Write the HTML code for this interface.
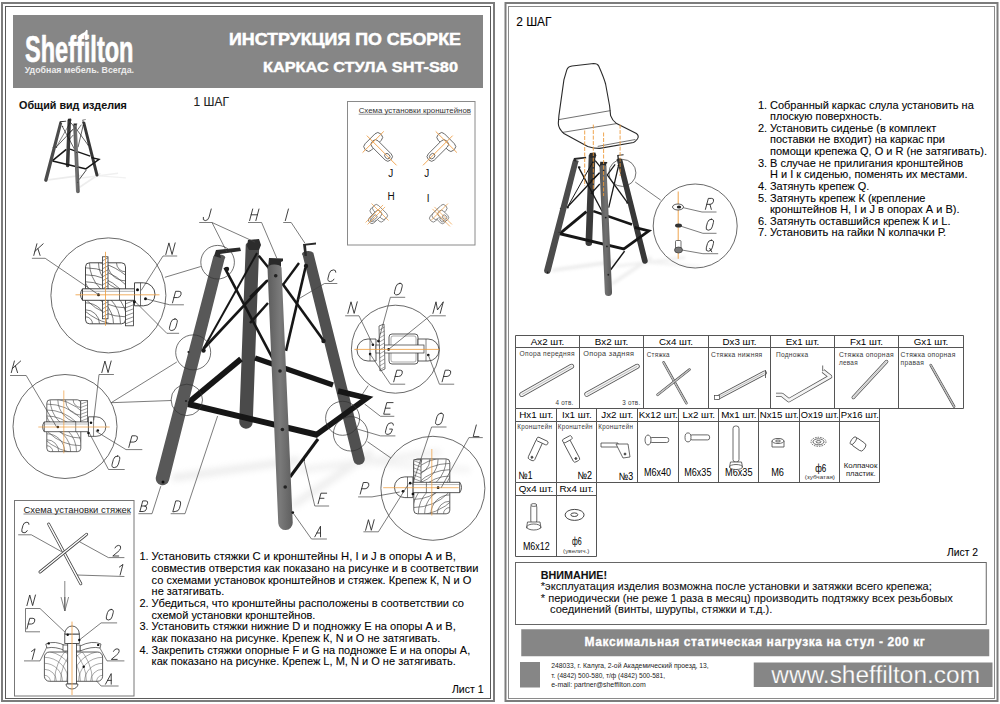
<!DOCTYPE html>
<html><head><meta charset="utf-8"><style>
html,body{margin:0;padding:0;background:#fff;}
body{width:1000px;height:704px;overflow:hidden;}
svg{display:block;font-family:"Liberation Sans",sans-serif;}
.gl{font-weight:400;}
</style></head><body>
<svg width="1000" height="704" viewBox="0 0 1000 704">
<defs>
<filter id="blur3" x="-20%" y="-50%" width="140%" height="200%"><feGaussianBlur stdDeviation="3"/></filter>
<linearGradient id="gA2" x1="0" x2="1" y1="0" y2="0"><stop offset="0" stop-color="#555"/><stop offset="0.5" stop-color="#717171"/><stop offset="1" stop-color="#585858"/></linearGradient>
<linearGradient id="gB" x1="0" x2="1" y1="0" y2="0"><stop offset="0" stop-color="#626262"/><stop offset="0.6" stop-color="#595959"/><stop offset="1" stop-color="#4a4a4a"/></linearGradient>
<linearGradient id="gA" x1="0" x2="1" y1="0" y2="0">
<stop offset="0" stop-color="#5c5c5c"/><stop offset="0.5" stop-color="#7a7a7a"/><stop offset="1" stop-color="#5e5e5e"/></linearGradient>
</defs>
<rect x="0" y="0" width="1000" height="704" fill="#fff"/>

<rect x="2" y="3" width="492" height="698" fill="none" stroke="#7c7c7c" stroke-width="2" />
<rect x="5.5" y="6.5" width="485" height="692" fill="none" stroke="#5a5a5a" stroke-width="1" />
<rect x="505.5" y="3" width="492" height="698" fill="none" stroke="#7c7c7c" stroke-width="2" />
<rect x="508.5" y="6.5" width="486" height="692" fill="none" stroke="#8a8a8a" stroke-width="1" />
<rect x="13" y="15" width="470" height="73" fill="#868686" />
<text x="229" y="44.6" font-size="16.5" font-weight="700" fill="#fff" textLength="232" lengthAdjust="spacingAndGlyphs" stroke="#fff" stroke-width="0.5">ИНСТРУКЦИЯ ПО СБОРКЕ</text>
<text x="263" y="71.6" font-size="14.5" font-weight="700" fill="#fff" textLength="195" lengthAdjust="spacingAndGlyphs" stroke="#fff" stroke-width="0.4">КАРКАС СТУЛА SHT-S80</text>
<text x="25" y="62.3" font-size="37" font-weight="700" fill="#fff" stroke="#fff" stroke-width="0.7" stroke-linejoin="round" textLength="108.5" lengthAdjust="spacingAndGlyphs">Sheffilton</text>
<path d="M77.5,37.5 Q80.5,33.5 85,32 L86.2,29.8 L87.6,30.2 L87.6,40 L85.2,40 L85.2,35 Q81.5,36 79.5,39 Z" fill="#fff"/>
<text x="24.7" y="73.3" font-size="9.6" font-weight="700" fill="#ececec" textLength="109.3" lengthAdjust="spacingAndGlyphs" >Удобная мебель. Всегда.</text>
<text x="19.1" y="109.2" font-size="11.8" font-weight="700" fill="#111" textLength="107.8" lengthAdjust="spacingAndGlyphs" stroke="#111" stroke-width="0.1" >Общий вид изделия</text>
<text x="193.6" y="105.6" font-size="12" fill="#222" textLength="35.3" lengthAdjust="spacingAndGlyphs" stroke="#222" stroke-width="0.1" >1 ШАГ</text>
<g id="mainchair"><g filter="url(#blur3)" opacity="0.4"><line x1="172" y1="478" x2="300" y2="460" stroke="#d0d0d0" stroke-width="7"/><line x1="292" y1="506" x2="372" y2="452" stroke="#d4d4d4" stroke-width="7"/><line x1="300" y1="470" x2="440" y2="452" stroke="#dadada" stroke-width="6"/><line x1="366" y1="462" x2="470" y2="470" stroke="#dedede" stroke-width="5"/></g>
<path d="M245.75,244.75 A6.75,3.38 0 0 1 259.25,245.25 L252.75,422.25 A6.75,6.75 0 0 1 239.25,421.75 Z" fill="#4a4a4a" />
<line x1="188" y1="403" x2="241" y2="359" stroke="#161616" stroke-width="5.8" stroke-linecap="butt"/>
<line x1="255" y1="358" x2="333" y2="385" stroke="#161616" stroke-width="5.2" stroke-linecap="butt"/>
<line x1="258.8" y1="255.7" x2="272" y2="272" stroke="#161616" stroke-width="2.5" stroke-linecap="butt"/>
<line x1="250" y1="323" x2="268" y2="303" stroke="#161616" stroke-width="2.5" stroke-linecap="butt"/>
<line x1="250" y1="297" x2="268" y2="280" stroke="#161616" stroke-width="2.4" stroke-linecap="butt"/>
<line x1="299" y1="263" x2="283.3" y2="284.4" stroke="#161616" stroke-width="2.4" stroke-linecap="butt"/>
<line x1="203.3" y1="349" x2="257" y2="253" stroke="#161616" stroke-width="2.0" stroke-linecap="butt"/>
<path d="M213.43,256.08 A5.75,2.88 0 0 1 224.57,258.92 L169.04,480.17 A6.75,6.75 0 0 1 155.96,476.83 Z" fill="#585858" />
<path d="M302.66,255.33 A5.50,2.75 0 0 1 313.34,252.67 L364.58,457.61 A5.75,5.75 0 0 1 353.42,460.39 Z" fill="#505050" />
<line x1="224.6" y1="267.7" x2="272.6" y2="358.3" stroke="#161616" stroke-width="2.6" stroke-linecap="butt"/>
<line x1="203.3" y1="349" x2="267.1" y2="280.7" stroke="#161616" stroke-width="2.6" stroke-linecap="butt"/>
<line x1="282.3" y1="283.4" x2="323" y2="339.8" stroke="#161616" stroke-width="2.6" stroke-linecap="butt"/>
<line x1="305.4" y1="267.7" x2="286" y2="350.9" stroke="#161616" stroke-width="2.6" stroke-linecap="butt"/>
<line x1="188" y1="404" x2="318" y2="435" stroke="#161616" stroke-width="6" stroke-linecap="butt"/>
<polyline points="316,435 367,398 338,391" fill="none" stroke="#161616" stroke-width="5.5" stroke-linejoin="miter"/>
<line x1="318" y1="439" x2="290" y2="477" stroke="#161616" stroke-width="3" stroke-linecap="butt"/>
<path d="M214,256 L216,250 L240,247.5 L241,251 L220,254 L221,258 Z" fill="#2a2a2a"/>
<path d="M247,246 L248,240 L259,239 L261,245 L259,250 L249,250 Z" fill="#2c2c2c"/>
<path d="M268,268 L269,258 L283,258.5 L283,261 L281,262 L281,268 Z" fill="#2a2a2a"/>
<path d="M303,244 L316,242.5 L316,244.5 L306,245.5 L307,256 L304.5,256 Z" fill="#2a2a2a"/>
<circle cx="227" cy="269" r="2.2" fill="#1a1a1a"/>
<circle cx="203.5" cy="350.5" r="2.2" fill="#1a1a1a"/>
<circle cx="306" cy="266" r="2.2" fill="#1a1a1a"/>
<circle cx="323.5" cy="341" r="2.2" fill="#1a1a1a"/>
<path d="M267.51,268.30 A7.00,3.50 0 0 1 281.49,267.70 L292.74,522.69 A7.25,7.25 0 0 1 278.26,523.31 Z" fill="url(#gA)" />
<circle cx="275.7" cy="275.8" r="1.8" fill="#222"/>
<circle cx="280" cy="371" r="1.8" fill="#222"/>
<circle cx="282.4" cy="429.5" r="1.8" fill="#222"/>
<circle cx="285.2" cy="487" r="1.8" fill="#222"/>
<circle cx="188.5" cy="352" r="1.1" fill="#222"/>
<circle cx="186" cy="401" r="1.1" fill="#222"/>
<circle cx="163" cy="482" r="1.5" fill="#111"/></g>
<g transform="matrix(0.2602 0 0 0.2571 3.59 57.07)"><g filter="url(#blur3)" opacity="0.4"><line x1="172" y1="478" x2="300" y2="460" stroke="#d0d0d0" stroke-width="7"/><line x1="292" y1="506" x2="372" y2="452" stroke="#d4d4d4" stroke-width="7"/><line x1="300" y1="470" x2="440" y2="452" stroke="#dadada" stroke-width="6"/><line x1="366" y1="462" x2="470" y2="470" stroke="#dedede" stroke-width="5"/></g>
<path d="M245.75,244.75 A6.75,3.38 0 0 1 259.25,245.25 L252.75,422.25 A6.75,6.75 0 0 1 239.25,421.75 Z" fill="#3a3a3a" />
<line x1="188" y1="403" x2="241" y2="359" stroke="#161616" stroke-width="5.8" stroke-linecap="butt"/>
<line x1="255" y1="358" x2="333" y2="385" stroke="#161616" stroke-width="5.2" stroke-linecap="butt"/>
<line x1="258.8" y1="255.7" x2="272" y2="272" stroke="#161616" stroke-width="2.5" stroke-linecap="butt"/>
<line x1="250" y1="323" x2="268" y2="303" stroke="#161616" stroke-width="2.5" stroke-linecap="butt"/>
<line x1="250" y1="297" x2="268" y2="280" stroke="#161616" stroke-width="2.4" stroke-linecap="butt"/>
<line x1="299" y1="263" x2="283.3" y2="284.4" stroke="#161616" stroke-width="2.4" stroke-linecap="butt"/>
<line x1="203.3" y1="349" x2="257" y2="253" stroke="#161616" stroke-width="2.0" stroke-linecap="butt"/>
<path d="M213.43,256.08 A5.75,2.88 0 0 1 224.57,258.92 L169.04,480.17 A6.75,6.75 0 0 1 155.96,476.83 Z" fill="#4c4c4c" />
<path d="M302.66,255.33 A5.50,2.75 0 0 1 313.34,252.67 L364.58,457.61 A5.75,5.75 0 0 1 353.42,460.39 Z" fill="#383838" />
<line x1="224.6" y1="267.7" x2="272.6" y2="358.3" stroke="#161616" stroke-width="2.6" stroke-linecap="butt"/>
<line x1="203.3" y1="349" x2="267.1" y2="280.7" stroke="#161616" stroke-width="2.6" stroke-linecap="butt"/>
<line x1="282.3" y1="283.4" x2="323" y2="339.8" stroke="#161616" stroke-width="2.6" stroke-linecap="butt"/>
<line x1="305.4" y1="267.7" x2="286" y2="350.9" stroke="#161616" stroke-width="2.6" stroke-linecap="butt"/>
<line x1="188" y1="404" x2="318" y2="435" stroke="#161616" stroke-width="6" stroke-linecap="butt"/>
<polyline points="316,435 367,398 338,391" fill="none" stroke="#161616" stroke-width="5.5" stroke-linejoin="miter"/>
<line x1="318" y1="439" x2="290" y2="477" stroke="#161616" stroke-width="3" stroke-linecap="butt"/>
<path d="M214,256 L216,250 L240,247.5 L241,251 L220,254 L221,258 Z" fill="#2a2a2a"/>
<path d="M247,246 L248,240 L259,239 L261,245 L259,250 L249,250 Z" fill="#2c2c2c"/>
<path d="M268,268 L269,258 L283,258.5 L283,261 L281,262 L281,268 Z" fill="#2a2a2a"/>
<path d="M303,244 L316,242.5 L316,244.5 L306,245.5 L307,256 L304.5,256 Z" fill="#2a2a2a"/>
<circle cx="227" cy="269" r="2.2" fill="#1a1a1a"/>
<circle cx="203.5" cy="350.5" r="2.2" fill="#1a1a1a"/>
<circle cx="306" cy="266" r="2.2" fill="#1a1a1a"/>
<circle cx="323.5" cy="341" r="2.2" fill="#1a1a1a"/>
<path d="M267.51,268.30 A7.00,3.50 0 0 1 281.49,267.70 L292.74,522.69 A7.25,7.25 0 0 1 278.26,523.31 Z" fill="url(#gA2)" />
<circle cx="275.7" cy="275.8" r="1.8" fill="#222"/>
<circle cx="280" cy="371" r="1.8" fill="#222"/>
<circle cx="282.4" cy="429.5" r="1.8" fill="#222"/>
<circle cx="285.2" cy="487" r="1.8" fill="#222"/>
<circle cx="188.5" cy="352" r="1.1" fill="#222"/>
<circle cx="186" cy="401" r="1.1" fill="#222"/>
<circle cx="163" cy="482" r="1.5" fill="#111"/></g>
<g transform="matrix(0.4958 0 0 0.4931 466.9 34.6)"><g filter="url(#blur3)" opacity="0.4"><line x1="172" y1="478" x2="300" y2="460" stroke="#d0d0d0" stroke-width="7"/><line x1="292" y1="506" x2="372" y2="452" stroke="#d4d4d4" stroke-width="7"/><line x1="300" y1="470" x2="440" y2="452" stroke="#dadada" stroke-width="6"/><line x1="366" y1="462" x2="470" y2="470" stroke="#dedede" stroke-width="5"/></g>
<path d="M245.75,244.75 A6.75,3.38 0 0 1 259.25,245.25 L252.75,422.25 A6.75,6.75 0 0 1 239.25,421.75 Z" fill="#3a3a3a" />
<line x1="188" y1="403" x2="241" y2="359" stroke="#161616" stroke-width="5.8" stroke-linecap="butt"/>
<line x1="255" y1="358" x2="333" y2="385" stroke="#161616" stroke-width="5.2" stroke-linecap="butt"/>
<line x1="258.8" y1="255.7" x2="272" y2="272" stroke="#161616" stroke-width="2.5" stroke-linecap="butt"/>
<line x1="250" y1="323" x2="268" y2="303" stroke="#161616" stroke-width="2.5" stroke-linecap="butt"/>
<line x1="250" y1="297" x2="268" y2="280" stroke="#161616" stroke-width="2.4" stroke-linecap="butt"/>
<line x1="299" y1="263" x2="283.3" y2="284.4" stroke="#161616" stroke-width="2.4" stroke-linecap="butt"/>
<line x1="203.3" y1="349" x2="257" y2="253" stroke="#161616" stroke-width="2.0" stroke-linecap="butt"/>
<path d="M213.43,256.08 A5.75,2.88 0 0 1 224.57,258.92 L169.04,480.17 A6.75,6.75 0 0 1 155.96,476.83 Z" fill="#4c4c4c" />
<path d="M302.66,255.33 A5.50,2.75 0 0 1 313.34,252.67 L364.58,457.61 A5.75,5.75 0 0 1 353.42,460.39 Z" fill="#383838" />
<line x1="224.6" y1="267.7" x2="272.6" y2="358.3" stroke="#161616" stroke-width="2.6" stroke-linecap="butt"/>
<line x1="203.3" y1="349" x2="267.1" y2="280.7" stroke="#161616" stroke-width="2.6" stroke-linecap="butt"/>
<line x1="282.3" y1="283.4" x2="323" y2="339.8" stroke="#161616" stroke-width="2.6" stroke-linecap="butt"/>
<line x1="305.4" y1="267.7" x2="286" y2="350.9" stroke="#161616" stroke-width="2.6" stroke-linecap="butt"/>
<line x1="188" y1="404" x2="318" y2="435" stroke="#161616" stroke-width="6" stroke-linecap="butt"/>
<polyline points="316,435 367,398 338,391" fill="none" stroke="#161616" stroke-width="5.5" stroke-linejoin="miter"/>
<line x1="318" y1="439" x2="290" y2="477" stroke="#161616" stroke-width="3" stroke-linecap="butt"/>
<path d="M214,256 L216,250 L240,247.5 L241,251 L220,254 L221,258 Z" fill="#2a2a2a"/>
<path d="M247,246 L248,240 L259,239 L261,245 L259,250 L249,250 Z" fill="#2c2c2c"/>
<path d="M268,268 L269,258 L283,258.5 L283,261 L281,262 L281,268 Z" fill="#2a2a2a"/>
<path d="M303,244 L316,242.5 L316,244.5 L306,245.5 L307,256 L304.5,256 Z" fill="#2a2a2a"/>
<circle cx="227" cy="269" r="2.2" fill="#1a1a1a"/>
<circle cx="203.5" cy="350.5" r="2.2" fill="#1a1a1a"/>
<circle cx="306" cy="266" r="2.2" fill="#1a1a1a"/>
<circle cx="323.5" cy="341" r="2.2" fill="#1a1a1a"/>
<path d="M267.51,268.30 A7.00,3.50 0 0 1 281.49,267.70 L292.74,522.69 A7.25,7.25 0 0 1 278.26,523.31 Z" fill="url(#gA2)" />
<circle cx="275.7" cy="275.8" r="1.8" fill="#222"/>
<circle cx="280" cy="371" r="1.8" fill="#222"/>
<circle cx="282.4" cy="429.5" r="1.8" fill="#222"/>
<circle cx="285.2" cy="487" r="1.8" fill="#222"/>
<circle cx="188.5" cy="352" r="1.1" fill="#222"/>
<circle cx="186" cy="401" r="1.1" fill="#222"/>
<circle cx="163" cy="482" r="1.5" fill="#111"/></g>
<rect x="347.5" y="101.5" width="127.5" height="143.5" fill="none" stroke="#8a8a8a" stroke-width="1" />
<text x="358.7" y="113" font-size="8" fill="#333" textLength="112.3" lengthAdjust="spacingAndGlyphs" >Схема установки кронштейнов</text>
<line x1="358.7" y1="114.2" x2="471" y2="114.2" stroke="#444" stroke-width="0.6" />
<g transform="translate(373.2,142) rotate(45) scale(1.0)" fill="#fff" stroke="#5a5a5a" stroke-width="0.85"><rect x="-4.5" y="-11" width="9" height="22" rx="4"/><rect x="-1" y="-4.3" width="26" height="8.6" rx="3.8"/><ellipse cx="20" cy="0" rx="3" ry="2.3"/></g>
<g transform="translate(373.2,142) rotate(45) scale(1.0)" stroke="#ec9636" stroke-width="0.8"><line x1="-9" y1="0" x2="33" y2="0"/><line x1="0" y1="-15" x2="0" y2="15"/></g>
<g transform="translate(446.3,142) rotate(135) scale(1.0)" fill="#fff" stroke="#5a5a5a" stroke-width="0.85"><rect x="-4.5" y="-11" width="9" height="22" rx="4"/><rect x="-1" y="-4.3" width="26" height="8.6" rx="3.8"/><ellipse cx="20" cy="0" rx="3" ry="2.3"/></g>
<g transform="translate(446.3,142) rotate(135) scale(1.0)" stroke="#ec9636" stroke-width="0.8"><line x1="-9" y1="0" x2="33" y2="0"/><line x1="0" y1="-15" x2="0" y2="15"/></g>
<g transform="translate(377.5,214.5) rotate(135) scale(0.8)" fill="#fff" stroke="#5a5a5a" stroke-width="0.85"><rect x="-4.5" y="-11" width="9" height="22" rx="4"/><rect x="-1" y="-4.3" width="15" height="8.6" rx="3.8"/><ellipse cx="9" cy="0" rx="3" ry="2.3"/></g>
<g transform="translate(380,212) rotate(135) scale(0.8)" fill="#fff" stroke="#5a5a5a" stroke-width="0.85"><rect x="-4.5" y="-11" width="9" height="22" rx="4"/><rect x="-1" y="-4.3" width="15" height="8.6" rx="3.8"/><ellipse cx="9" cy="0" rx="3" ry="2.3"/></g>
<g transform="translate(380,212) rotate(135) scale(0.8)" stroke="#ec9636" stroke-width="0.8"><line x1="-9" y1="0" x2="22" y2="0"/><line x1="0" y1="-15" x2="0" y2="15"/><line x1="-9" y1="3.5" x2="22" y2="3.5"/></g>
<g transform="translate(437.0,214.5) rotate(45) scale(0.8)" fill="#fff" stroke="#5a5a5a" stroke-width="0.85"><rect x="-4.5" y="-11" width="9" height="22" rx="4"/><rect x="-1" y="-4.3" width="15" height="8.6" rx="3.8"/><ellipse cx="9" cy="0" rx="3" ry="2.3"/></g>
<g transform="translate(439.5,212) rotate(45) scale(0.8)" fill="#fff" stroke="#5a5a5a" stroke-width="0.85"><rect x="-4.5" y="-11" width="9" height="22" rx="4"/><rect x="-1" y="-4.3" width="15" height="8.6" rx="3.8"/><ellipse cx="9" cy="0" rx="3" ry="2.3"/></g>
<g transform="translate(439.5,212) rotate(45) scale(0.8)" stroke="#ec9636" stroke-width="0.8"><line x1="-9" y1="0" x2="22" y2="0"/><line x1="0" y1="-15" x2="0" y2="15"/><line x1="-9" y1="3.5" x2="22" y2="3.5"/></g>
<text x="388.3" y="177" font-size="10" fill="#111" >J</text>
<text x="424.3" y="177" font-size="10" fill="#111" >J</text>
<text x="387.6" y="200.3" font-size="10" fill="#111" >H</text>
<text x="426.8" y="201.5" font-size="10" fill="#111" >I</text>
<defs><clipPath id="cj"><rect x="-22" y="-32" width="40" height="61" rx="4"/></clipPath></defs>
<circle cx="108.4" cy="295.4" r="57.5" stroke="#444" stroke-width="0.8" fill="none"/>
<g transform="translate(107.5,294.8) scale(1.0,1.0)">
<rect x="-22" y="-32" width="40" height="61" rx="4" fill="#fff" stroke="#333" stroke-width="0.9"/>
<path d="M-22,22 A7,7 0 0 1 -15,29" fill="none" stroke="#444" stroke-width="0.7" clip-path="url(#cj)"/>
<path d="M-22,15 A14,14 0 0 1 -8,29" fill="none" stroke="#444" stroke-width="0.7" clip-path="url(#cj)"/>
<path d="M-22,8 A21,21 0 0 1 -1,29" fill="none" stroke="#444" stroke-width="0.7" clip-path="url(#cj)"/>
<path d="M-22,1 A28,28 0 0 1 6,29" fill="none" stroke="#444" stroke-width="0.7" clip-path="url(#cj)"/>
<path d="M-22,-6 A35,35 0 0 1 13,29" fill="none" stroke="#444" stroke-width="0.7" clip-path="url(#cj)"/>
<path d="M-22,-13 A42,42 0 0 1 20,29" fill="none" stroke="#444" stroke-width="0.7" clip-path="url(#cj)"/>
<path d="M-22,-20 A49,49 0 0 1 27,29" fill="none" stroke="#444" stroke-width="0.7" clip-path="url(#cj)"/>
<path d="M-22,-27 A56,56 0 0 1 34,29" fill="none" stroke="#444" stroke-width="0.7" clip-path="url(#cj)"/>
<path d="M-22,-34 A63,63 0 0 1 41,29" fill="none" stroke="#444" stroke-width="0.7" clip-path="url(#cj)"/>
<path d="M18,-23 A9,9 0 0 1 9,-32" fill="none" stroke="#444" stroke-width="0.7" clip-path="url(#cj)"/>
<path d="M18,-14 A18,18 0 0 1 0,-32" fill="none" stroke="#444" stroke-width="0.7" clip-path="url(#cj)"/>
<path d="M18,-5 A27,27 0 0 1 -9,-32" fill="none" stroke="#444" stroke-width="0.7" clip-path="url(#cj)"/>
<path d="M18,4 A36,36 0 0 1 -18,-32" fill="none" stroke="#444" stroke-width="0.7" clip-path="url(#cj)"/>
<path d="M18,13 A45,45 0 0 1 -27,-32" fill="none" stroke="#444" stroke-width="0.7" clip-path="url(#cj)"/>
<path d="M18,22 A54,54 0 0 1 -36,-32" fill="none" stroke="#444" stroke-width="0.7" clip-path="url(#cj)"/>
<path d="M18,31 A63,63 0 0 1 -45,-32" fill="none" stroke="#444" stroke-width="0.7" clip-path="url(#cj)"/>
<rect x="-5" y="-38" width="5.5" height="62" fill="#fff" stroke="#333" stroke-width="0.8"/>
<line x1="-5" y1="-34" x2="0.5" y2="-37" stroke="#444" stroke-width="0.6"/>
<line x1="-5" y1="-30" x2="0.5" y2="-33" stroke="#444" stroke-width="0.6"/>
<line x1="-5" y1="-26" x2="0.5" y2="-29" stroke="#444" stroke-width="0.6"/>
<line x1="-5" y1="-22" x2="0.5" y2="-25" stroke="#444" stroke-width="0.6"/>
<line x1="-5" y1="-18" x2="0.5" y2="-21" stroke="#444" stroke-width="0.6"/>
<line x1="-5" y1="-14" x2="0.5" y2="-17" stroke="#444" stroke-width="0.6"/>
<line x1="-5" y1="-10" x2="0.5" y2="-13" stroke="#444" stroke-width="0.6"/>
<line x1="-5" y1="-6" x2="0.5" y2="-9" stroke="#444" stroke-width="0.6"/>
<line x1="-5" y1="-2" x2="0.5" y2="-5" stroke="#444" stroke-width="0.6"/>
<line x1="-5" y1="2" x2="0.5" y2="-1" stroke="#444" stroke-width="0.6"/>
<line x1="-5" y1="6" x2="0.5" y2="3" stroke="#444" stroke-width="0.6"/>
<line x1="-5" y1="10" x2="0.5" y2="7" stroke="#444" stroke-width="0.6"/>
<line x1="-5" y1="14" x2="0.5" y2="11" stroke="#444" stroke-width="0.6"/>
<line x1="-5" y1="18" x2="0.5" y2="15" stroke="#444" stroke-width="0.6"/>
<line x1="-5" y1="22" x2="0.5" y2="19" stroke="#444" stroke-width="0.6"/>
<rect x="18" y="5" width="8" height="26" fill="#fff" stroke="#333" stroke-width="0.8"/>
<line x1="18" y1="9" x2="26" y2="6" stroke="#444" stroke-width="0.6"/>
<line x1="18" y1="13" x2="26" y2="10" stroke="#444" stroke-width="0.6"/>
<line x1="18" y1="17" x2="26" y2="14" stroke="#444" stroke-width="0.6"/>
<line x1="18" y1="21" x2="26" y2="18" stroke="#444" stroke-width="0.6"/>
<line x1="18" y1="25" x2="26" y2="22" stroke="#444" stroke-width="0.6"/>
<line x1="18" y1="29" x2="26" y2="26" stroke="#444" stroke-width="0.6"/>
<path d="M-25,-6 L27,-6 L27,5.5 L-25,5.5 Z" fill="#fff" stroke="#333" stroke-width="0.9"/>
<path d="M-25,-6 A10,10 0 0 0 -25,5.5" fill="none" stroke="#333" stroke-width="0.9"/>
<line x1="-25" y1="-3.5" x2="27" y2="-3.5" stroke="#666" stroke-width="0.5"/>
<line x1="12" y1="-6" x2="12" y2="5.5" stroke="#333" stroke-width="0.7"/>
<path d="M27,-12 L36,-12 A11,11 0 0 1 36,11 L27,11 Z" fill="#fff" stroke="#333" stroke-width="0.9"/>
<line x1="33" y1="-12" x2="33" y2="11" stroke="#333" stroke-width="0.7"/>
<circle cx="30" cy="-5" r="1.5" fill="#111"/><circle cx="38" cy="4" r="1.5" fill="#111"/><circle cx="27" cy="7" r="1.5" fill="#111"/>
<circle cx="-9" cy="0" r="1.5" fill="#111"/>
<line x1="-32" y1="0" x2="52" y2="0" stroke="#ee9a3a" stroke-width="0.8"/>
<line x1="-2" y1="-43" x2="-2" y2="31" stroke="#ee9a3a" stroke-width="0.8"/>
</g>
<circle cx="65" cy="426.5" r="52" stroke="#444" stroke-width="0.8" fill="none"/>
<g transform="translate(65.5,427) scale(0.85,0.85)">
<rect x="-22" y="-32" width="40" height="61" rx="4" fill="#fff" stroke="#333" stroke-width="0.9"/>
<path d="M-22,22 A7,7 0 0 1 -15,29" fill="none" stroke="#444" stroke-width="0.7" clip-path="url(#cj)"/>
<path d="M-22,15 A14,14 0 0 1 -8,29" fill="none" stroke="#444" stroke-width="0.7" clip-path="url(#cj)"/>
<path d="M-22,8 A21,21 0 0 1 -1,29" fill="none" stroke="#444" stroke-width="0.7" clip-path="url(#cj)"/>
<path d="M-22,1 A28,28 0 0 1 6,29" fill="none" stroke="#444" stroke-width="0.7" clip-path="url(#cj)"/>
<path d="M-22,-6 A35,35 0 0 1 13,29" fill="none" stroke="#444" stroke-width="0.7" clip-path="url(#cj)"/>
<path d="M-22,-13 A42,42 0 0 1 20,29" fill="none" stroke="#444" stroke-width="0.7" clip-path="url(#cj)"/>
<path d="M-22,-20 A49,49 0 0 1 27,29" fill="none" stroke="#444" stroke-width="0.7" clip-path="url(#cj)"/>
<path d="M-22,-27 A56,56 0 0 1 34,29" fill="none" stroke="#444" stroke-width="0.7" clip-path="url(#cj)"/>
<path d="M-22,-34 A63,63 0 0 1 41,29" fill="none" stroke="#444" stroke-width="0.7" clip-path="url(#cj)"/>
<path d="M18,-23 A9,9 0 0 1 9,-32" fill="none" stroke="#444" stroke-width="0.7" clip-path="url(#cj)"/>
<path d="M18,-14 A18,18 0 0 1 0,-32" fill="none" stroke="#444" stroke-width="0.7" clip-path="url(#cj)"/>
<path d="M18,-5 A27,27 0 0 1 -9,-32" fill="none" stroke="#444" stroke-width="0.7" clip-path="url(#cj)"/>
<path d="M18,4 A36,36 0 0 1 -18,-32" fill="none" stroke="#444" stroke-width="0.7" clip-path="url(#cj)"/>
<path d="M18,13 A45,45 0 0 1 -27,-32" fill="none" stroke="#444" stroke-width="0.7" clip-path="url(#cj)"/>
<path d="M18,22 A54,54 0 0 1 -36,-32" fill="none" stroke="#444" stroke-width="0.7" clip-path="url(#cj)"/>
<path d="M18,31 A63,63 0 0 1 -45,-32" fill="none" stroke="#444" stroke-width="0.7" clip-path="url(#cj)"/>
<rect x="18" y="-31" width="8" height="26" fill="#fff" stroke="#333" stroke-width="0.8"/>
<line x1="18" y1="-27" x2="26" y2="-30" stroke="#444" stroke-width="0.6"/>
<line x1="18" y1="-23" x2="26" y2="-26" stroke="#444" stroke-width="0.6"/>
<line x1="18" y1="-19" x2="26" y2="-22" stroke="#444" stroke-width="0.6"/>
<line x1="18" y1="-15" x2="26" y2="-18" stroke="#444" stroke-width="0.6"/>
<line x1="18" y1="-11" x2="26" y2="-14" stroke="#444" stroke-width="0.6"/>
<line x1="18" y1="-7" x2="26" y2="-10" stroke="#444" stroke-width="0.6"/>
<path d="M-25,-6 L27,-6 L27,5.5 L-25,5.5 Z" fill="#fff" stroke="#333" stroke-width="0.9"/>
<path d="M-25,-6 A10,10 0 0 0 -25,5.5" fill="none" stroke="#333" stroke-width="0.9"/>
<line x1="-25" y1="-3.5" x2="27" y2="-3.5" stroke="#666" stroke-width="0.5"/>
<line x1="12" y1="-6" x2="12" y2="5.5" stroke="#333" stroke-width="0.7"/>
<path d="M27,-12 L36,-12 A11,11 0 0 1 36,11 L27,11 Z" fill="#fff" stroke="#333" stroke-width="0.9"/>
<line x1="33" y1="-12" x2="33" y2="11" stroke="#333" stroke-width="0.7"/>
<circle cx="30" cy="-5" r="1.5" fill="#111"/><circle cx="38" cy="4" r="1.5" fill="#111"/><circle cx="27" cy="7" r="1.5" fill="#111"/>
<circle cx="-9" cy="0" r="1.5" fill="#111"/>
<line x1="-32" y1="0" x2="52" y2="0" stroke="#ee9a3a" stroke-width="0.8"/>
<line x1="-2" y1="-43" x2="-2" y2="31" stroke="#ee9a3a" stroke-width="0.8"/>
</g>
<circle cx="395.4" cy="349.2" r="44" stroke="#444" stroke-width="0.8" fill="none"/>
<circle cx="432.9" cy="488.3" r="52" stroke="#444" stroke-width="0.8" fill="none"/>
<g transform="translate(430,487.7) scale(-0.9,0.9)">
<rect x="-22" y="-32" width="40" height="61" rx="4" fill="#fff" stroke="#333" stroke-width="0.9"/>
<path d="M-22,22 A7,7 0 0 1 -15,29" fill="none" stroke="#444" stroke-width="0.7" clip-path="url(#cj)"/>
<path d="M-22,15 A14,14 0 0 1 -8,29" fill="none" stroke="#444" stroke-width="0.7" clip-path="url(#cj)"/>
<path d="M-22,8 A21,21 0 0 1 -1,29" fill="none" stroke="#444" stroke-width="0.7" clip-path="url(#cj)"/>
<path d="M-22,1 A28,28 0 0 1 6,29" fill="none" stroke="#444" stroke-width="0.7" clip-path="url(#cj)"/>
<path d="M-22,-6 A35,35 0 0 1 13,29" fill="none" stroke="#444" stroke-width="0.7" clip-path="url(#cj)"/>
<path d="M-22,-13 A42,42 0 0 1 20,29" fill="none" stroke="#444" stroke-width="0.7" clip-path="url(#cj)"/>
<path d="M-22,-20 A49,49 0 0 1 27,29" fill="none" stroke="#444" stroke-width="0.7" clip-path="url(#cj)"/>
<path d="M-22,-27 A56,56 0 0 1 34,29" fill="none" stroke="#444" stroke-width="0.7" clip-path="url(#cj)"/>
<path d="M-22,-34 A63,63 0 0 1 41,29" fill="none" stroke="#444" stroke-width="0.7" clip-path="url(#cj)"/>
<path d="M18,-23 A9,9 0 0 1 9,-32" fill="none" stroke="#444" stroke-width="0.7" clip-path="url(#cj)"/>
<path d="M18,-14 A18,18 0 0 1 0,-32" fill="none" stroke="#444" stroke-width="0.7" clip-path="url(#cj)"/>
<path d="M18,-5 A27,27 0 0 1 -9,-32" fill="none" stroke="#444" stroke-width="0.7" clip-path="url(#cj)"/>
<path d="M18,4 A36,36 0 0 1 -18,-32" fill="none" stroke="#444" stroke-width="0.7" clip-path="url(#cj)"/>
<path d="M18,13 A45,45 0 0 1 -27,-32" fill="none" stroke="#444" stroke-width="0.7" clip-path="url(#cj)"/>
<path d="M18,22 A54,54 0 0 1 -36,-32" fill="none" stroke="#444" stroke-width="0.7" clip-path="url(#cj)"/>
<path d="M18,31 A63,63 0 0 1 -45,-32" fill="none" stroke="#444" stroke-width="0.7" clip-path="url(#cj)"/>
<rect x="10" y="-31" width="8" height="26" fill="#fff" stroke="#333" stroke-width="0.8"/>
<line x1="10" y1="-27" x2="18" y2="-30" stroke="#444" stroke-width="0.6"/>
<line x1="10" y1="-23" x2="18" y2="-26" stroke="#444" stroke-width="0.6"/>
<line x1="10" y1="-19" x2="18" y2="-22" stroke="#444" stroke-width="0.6"/>
<line x1="10" y1="-15" x2="18" y2="-18" stroke="#444" stroke-width="0.6"/>
<line x1="10" y1="-11" x2="18" y2="-14" stroke="#444" stroke-width="0.6"/>
<line x1="10" y1="-7" x2="18" y2="-10" stroke="#444" stroke-width="0.6"/>
<g transform="translate(-8,0)">
<path d="M-25,-6 L27,-6 L27,5.5 L-25,5.5 Z" fill="#fff" stroke="#333" stroke-width="0.9"/>
<path d="M-25,-6 A10,10 0 0 0 -25,5.5" fill="none" stroke="#333" stroke-width="0.9"/>
<line x1="-25" y1="-3.5" x2="27" y2="-3.5" stroke="#666" stroke-width="0.5"/>
<line x1="12" y1="-6" x2="12" y2="5.5" stroke="#333" stroke-width="0.7"/>
<path d="M27,-12 L36,-12 A11,11 0 0 1 36,11 L27,11 Z" fill="#fff" stroke="#333" stroke-width="0.9"/>
<line x1="33" y1="-12" x2="33" y2="11" stroke="#333" stroke-width="0.7"/>
<circle cx="30" cy="-5" r="1.5" fill="#111"/><circle cx="38" cy="4" r="1.5" fill="#111"/><circle cx="27" cy="7" r="1.5" fill="#111"/>
</g>
<circle cx="-9" cy="0" r="1.5" fill="#111"/>
<line x1="-32" y1="0" x2="52" y2="0" stroke="#ee9a3a" stroke-width="0.8"/>
<line x1="-2" y1="-43" x2="-2" y2="31" stroke="#ee9a3a" stroke-width="0.8"/>
</g>
<g>
<path d="M376,339 L368,339 A11,11 0 0 0 368,361 L376,361 Z" fill="#fff" stroke="#333" stroke-width="0.8"/>
<line x1="370" y1="339" x2="370" y2="361" stroke="#333" stroke-width="0.6"/>
<rect x="389" y="334" width="29" height="30" rx="3" fill="#fff" stroke="#333" stroke-width="0.8"/>
<rect x="391" y="336" width="25" height="26" rx="2" fill="none" stroke="#555" stroke-width="0.5"/>
<path d="M418,339 L428,339 A11,11 0 0 1 428,361 L418,361 Z" fill="#fff" stroke="#333" stroke-width="0.8"/>
<line x1="426" y1="339" x2="426" y2="361" stroke="#333" stroke-width="0.6"/>
<rect x="376" y="345" width="48" height="8" fill="#fff" stroke="#333" stroke-width="0.7"/>
<path d="M379,326 L384,324 L385,369 L380,371 Z" fill="#fff" stroke="#333" stroke-width="0.7"/>
<line x1="379.5" y1="330" x2="384.5" y2="327" stroke="#444" stroke-width="0.5"/>
<line x1="379.5" y1="334" x2="384.5" y2="331" stroke="#444" stroke-width="0.5"/>
<line x1="379.5" y1="338" x2="384.5" y2="335" stroke="#444" stroke-width="0.5"/>
<line x1="379.5" y1="342" x2="384.5" y2="339" stroke="#444" stroke-width="0.5"/>
<line x1="379.5" y1="346" x2="384.5" y2="343" stroke="#444" stroke-width="0.5"/>
<line x1="379.5" y1="350" x2="384.5" y2="347" stroke="#444" stroke-width="0.5"/>
<line x1="379.5" y1="354" x2="384.5" y2="351" stroke="#444" stroke-width="0.5"/>
<line x1="379.5" y1="358" x2="384.5" y2="355" stroke="#444" stroke-width="0.5"/>
<line x1="379.5" y1="362" x2="384.5" y2="359" stroke="#444" stroke-width="0.5"/>
<line x1="379.5" y1="366" x2="384.5" y2="363" stroke="#444" stroke-width="0.5"/>
<line x1="379.5" y1="370" x2="384.5" y2="367" stroke="#444" stroke-width="0.5"/>
<circle cx="372.9" cy="344.8" r="1.3" fill="#111"/><circle cx="378.4" cy="341.1" r="1.3" fill="#111"/><circle cx="388.6" cy="349.4" r="1.3" fill="#111"/><circle cx="370.1" cy="354.1" r="1.3" fill="#111"/><circle cx="428.3" cy="355" r="1.3" fill="#111"/>
<line x1="354.4" y1="349.4" x2="439.4" y2="349.4" stroke="#ee9a3a" stroke-width="0.8"/>
</g>
<circle cx="217.6" cy="262.2" r="16.8" stroke="#333" stroke-width="0.7" fill="none"/>
<circle cx="193.2" cy="352.4" r="17.5" stroke="#333" stroke-width="0.7" fill="none"/>
<circle cx="186.8" cy="399.9" r="15.7" stroke="#333" stroke-width="0.7" fill="none"/>
<circle cx="342.6" cy="418.3" r="17" stroke="#333" stroke-width="0.7" fill="none"/>
<circle cx="350.6" cy="433.8" r="17.2" stroke="#333" stroke-width="0.7" fill="none"/>
<line x1="164.9" y1="277.3" x2="200.8" y2="266.5" stroke="#444" stroke-width="0.7" />
<polyline points="176.8,362 111.2,402.7 171.3,400.5" stroke="#444" stroke-width="0.7" fill="none" />
<line x1="368.2" y1="385.6" x2="362.5" y2="394.1" stroke="#444" stroke-width="0.7" />
<line x1="367.5" y1="441.7" x2="390.9" y2="458" stroke="#444" stroke-width="0.7" />
<circle cx="292.8" cy="512.6" r="1.3" fill="#111"/><circle cx="303.8" cy="459.8" r="1.2" fill="#111"/>
<path d="M0,0 V-10 M6,-10 L0,-3.5 M2.2,-5.8 L6,0" transform="translate(33.80,255.40) skewX(-15) scale(1.044,1.160)" fill="none" stroke="#2a2a2a" stroke-width="0.9" stroke-linecap="round" stroke-linejoin="round" vector-effect="non-scaling-stroke"/>
<line x1="31.9" y1="258.3" x2="45.2" y2="258.3" stroke="#444" stroke-width="0.7" />
<polyline points="45.2,258.3 98.9,294.9" stroke="#444" stroke-width="0.7" fill="none" />
<path d="M0,0 V-10 L6,0 V-10" transform="translate(165.80,254.50) skewX(-15) scale(1.044,1.160)" fill="none" stroke="#2a2a2a" stroke-width="0.9" stroke-linecap="round" stroke-linejoin="round" vector-effect="non-scaling-stroke"/>
<line x1="163" y1="256" x2="177.2" y2="256" stroke="#444" stroke-width="0.7" />
<polyline points="163,256 141.1,290.5" stroke="#444" stroke-width="0.7" fill="none" />
<path d="M0,0 V-10 H3.4 Q6,-10 6,-7.3 Q6,-4.6 3.4,-4.6 H0" transform="translate(172.50,302.90) skewX(-15) scale(1.044,1.160)" fill="none" stroke="#2a2a2a" stroke-width="0.9" stroke-linecap="round" stroke-linejoin="round" vector-effect="non-scaling-stroke"/>
<line x1="169.6" y1="304.8" x2="183.9" y2="304.8" stroke="#444" stroke-width="0.7" />
<polyline points="169.6,304.8 146.8,299.1" stroke="#444" stroke-width="0.7" fill="none" />
<path d="M3,-10 Q6,-10 6,-7 V-3 Q6,0 3,0 Q0,0 0,-3 V-7 Q0,-10 3,-10 Z" transform="translate(168.70,330.50) skewX(-15) scale(1.044,1.160)" fill="none" stroke="#2a2a2a" stroke-width="0.9" stroke-linecap="round" stroke-linejoin="round" vector-effect="non-scaling-stroke"/>
<line x1="166.8" y1="333.3" x2="179.1" y2="333.3" stroke="#444" stroke-width="0.7" />
<polyline points="166.8,333.3 134.5,301" stroke="#444" stroke-width="0.7" fill="none" />
<path d="M0,0 V-10 M6,-10 L0,-3.5 M2.2,-5.8 L6,0" transform="translate(11.30,372.60) skewX(-15) scale(1.044,1.160)" fill="none" stroke="#2a2a2a" stroke-width="0.9" stroke-linecap="round" stroke-linejoin="round" vector-effect="non-scaling-stroke"/>
<line x1="10" y1="375.5" x2="26.2" y2="375.5" stroke="#444" stroke-width="0.7" />
<polyline points="26.2,375.5 56.4,426.6" stroke="#444" stroke-width="0.7" fill="none" />
<path d="M0,0 V-10 L6,0 V-10" transform="translate(101.80,372.60) skewX(-15) scale(1.044,1.160)" fill="none" stroke="#2a2a2a" stroke-width="0.9" stroke-linecap="round" stroke-linejoin="round" vector-effect="non-scaling-stroke"/>
<line x1="99" y1="374.5" x2="113.9" y2="374.5" stroke="#444" stroke-width="0.7" />
<polyline points="99,374.5 93.7,420.4" stroke="#444" stroke-width="0.7" fill="none" />
<path d="M0,0 V-10 H3.4 Q6,-10 6,-7.3 Q6,-4.6 3.4,-4.6 H0" transform="translate(128.80,447.40) skewX(-15) scale(1.044,1.160)" fill="none" stroke="#2a2a2a" stroke-width="0.9" stroke-linecap="round" stroke-linejoin="round" vector-effect="non-scaling-stroke"/>
<line x1="126" y1="449.6" x2="142.3" y2="449.6" stroke="#444" stroke-width="0.7" />
<polyline points="126,449.6 95.8,431.2" stroke="#444" stroke-width="0.7" fill="none" />
<path d="M3,-10 Q6,-10 6,-7 V-3 Q6,0 3,0 Q0,0 0,-3 V-7 Q0,-10 3,-10 Z" transform="translate(111.20,467.60) skewX(-15) scale(1.044,1.160)" fill="none" stroke="#2a2a2a" stroke-width="0.9" stroke-linecap="round" stroke-linejoin="round" vector-effect="non-scaling-stroke"/>
<line x1="108.5" y1="469.5" x2="124.7" y2="469.5" stroke="#444" stroke-width="0.7" />
<polyline points="108.5,469.5 88.8,432" stroke="#444" stroke-width="0.7" fill="none" />
<path d="M5.5,-10 V-3 Q5.5,0 2.8,0 Q0,0 0,-2.8" transform="translate(202.40,220.60) skewX(-15) scale(1.044,1.160)" fill="none" stroke="#2a2a2a" stroke-width="0.9" stroke-linecap="round" stroke-linejoin="round" vector-effect="non-scaling-stroke"/>
<line x1="199.2" y1="222.5" x2="212" y2="222.5" stroke="#444" stroke-width="0.7" />
<polyline points="227.2,252.6 212,222.5 255.2,242.2" stroke="#444" stroke-width="0.7" fill="none" />
<path d="M0,0 V-10 M6,0 V-10 M0,-5 H6" transform="translate(249.60,220.60) skewX(-15) scale(1.044,1.160)" fill="none" stroke="#2a2a2a" stroke-width="0.9" stroke-linecap="round" stroke-linejoin="round" vector-effect="non-scaling-stroke"/>
<line x1="248" y1="222.5" x2="261.6" y2="222.5" stroke="#444" stroke-width="0.7" />
<polyline points="261.6,222.5 276.8,258.2" stroke="#444" stroke-width="0.7" fill="none" />
<path d="M0.5,0 V-10" transform="translate(284.80,220.60) skewX(-15) scale(1.044,1.160)" fill="none" stroke="#2a2a2a" stroke-width="0.9" stroke-linecap="round" stroke-linejoin="round" vector-effect="non-scaling-stroke"/>
<line x1="283.2" y1="222.5" x2="291.2" y2="222.5" stroke="#444" stroke-width="0.7" />
<polyline points="291.2,222.5 304.8,243" stroke="#444" stroke-width="0.7" fill="none" />
<path d="M6,-8 Q5.6,-10 3.2,-10 Q0,-10 0,-7 V-3 Q0,0 3.2,0 Q5.6,0 6,-2" transform="translate(327.10,281.50) skewX(-15) scale(1.044,1.160)" fill="none" stroke="#2a2a2a" stroke-width="0.9" stroke-linecap="round" stroke-linejoin="round" vector-effect="non-scaling-stroke"/>
<line x1="324.5" y1="283.5" x2="337.3" y2="283.5" stroke="#444" stroke-width="0.7" />
<polyline points="324.5,283.5 297.7,299.4" stroke="#444" stroke-width="0.7" fill="none" />
<path d="M0,0 V-10 H3.4 Q5.8,-10 5.8,-7.5 Q5.8,-5.2 3.4,-5.2 H0 M3.4,-5.2 Q6.2,-5.2 6.2,-2.6 Q6.2,0 3.4,0 H0" transform="translate(139.90,511.50) skewX(-15) scale(0.954,1.060)" fill="none" stroke="#2a2a2a" stroke-width="0.9" stroke-linecap="round" stroke-linejoin="round" vector-effect="non-scaling-stroke"/>
<line x1="138.4" y1="513.7" x2="152" y2="513.7" stroke="#444" stroke-width="0.7" />
<polyline points="152,513.7 160.8,486.2" stroke="#444" stroke-width="0.7" fill="none" />
<path d="M0,0 V-10 H2.8 Q6,-10 6,-7 V-3 Q6,0 2.8,0 Z" transform="translate(172.90,511.50) skewX(-15) scale(0.954,1.060)" fill="none" stroke="#2a2a2a" stroke-width="0.9" stroke-linecap="round" stroke-linejoin="round" vector-effect="non-scaling-stroke"/>
<line x1="170.7" y1="513.7" x2="185" y2="513.7" stroke="#444" stroke-width="0.7" />
<polyline points="185,513.7 217.6,416" stroke="#444" stroke-width="0.7" fill="none" />
<path d="M6,-10 H0 V0 M0,-5.2 H4.6" transform="translate(318.10,503.80) skewX(-15) scale(0.954,1.060)" fill="none" stroke="#2a2a2a" stroke-width="0.9" stroke-linecap="round" stroke-linejoin="round" vector-effect="non-scaling-stroke"/>
<line x1="314.8" y1="506" x2="329.1" y2="506" stroke="#444" stroke-width="0.7" />
<polyline points="314.8,506 303.8,459.8" stroke="#444" stroke-width="0.7" fill="none" />
<path d="M0,0 L3,-10 L6,0 M1.1,-3.6 L4.9,-3.6" transform="translate(314.80,536.80) skewX(-15) scale(0.954,1.060)" fill="none" stroke="#2a2a2a" stroke-width="0.9" stroke-linecap="round" stroke-linejoin="round" vector-effect="non-scaling-stroke"/>
<line x1="311.5" y1="539" x2="326.9" y2="539" stroke="#444" stroke-width="0.7" />
<polyline points="311.5,539 292.8,512.6" stroke="#444" stroke-width="0.7" fill="none" />
<path d="M6,-10 H0 V0 H6 M0,-5.2 H4.6" transform="translate(383.70,414.20) skewX(-15) scale(1.044,1.160)" fill="none" stroke="#2a2a2a" stroke-width="0.9" stroke-linecap="round" stroke-linejoin="round" vector-effect="non-scaling-stroke"/>
<line x1="380.5" y1="416.3" x2="394.3" y2="416.3" stroke="#444" stroke-width="0.7" />
<polyline points="380.5,416.3 364.6,404" stroke="#444" stroke-width="0.7" fill="none" />
<path d="M6,-8 Q5.6,-10 3.2,-10 Q0,-10 0,-7 V-3 Q0,0 3.2,0 Q6,0 6,-3 V-4.6 H3.4" transform="translate(384.70,434.40) skewX(-15) scale(1.044,1.160)" fill="none" stroke="#2a2a2a" stroke-width="0.9" stroke-linecap="round" stroke-linejoin="round" vector-effect="non-scaling-stroke"/>
<line x1="380.5" y1="435.9" x2="395.4" y2="435.9" stroke="#444" stroke-width="0.7" />
<polyline points="380.5,435.9 356.8,428.9" stroke="#444" stroke-width="0.7" fill="none" />
<path d="M3,-10 Q6,-10 6,-7 V-3 Q6,0 3,0 Q0,0 0,-3 V-7 Q0,-10 3,-10 Z" transform="translate(393.70,294.90) skewX(-15) scale(1.044,1.160)" fill="none" stroke="#2a2a2a" stroke-width="0.9" stroke-linecap="round" stroke-linejoin="round" vector-effect="non-scaling-stroke"/>
<line x1="390.4" y1="297.3" x2="405.2" y2="297.3" stroke="#444" stroke-width="0.7" />
<polyline points="390.4,297.3 378.4,341.1" stroke="#444" stroke-width="0.7" fill="none" />
<path d="M0,0 V-10 L6,0 V-10" transform="translate(347.90,313.40) skewX(-15) scale(1.044,1.160)" fill="none" stroke="#2a2a2a" stroke-width="0.9" stroke-linecap="round" stroke-linejoin="round" vector-effect="non-scaling-stroke"/>
<line x1="345.2" y1="315.8" x2="359" y2="315.8" stroke="#444" stroke-width="0.7" />
<polyline points="359,315.8 372.9,344.8" stroke="#444" stroke-width="0.7" fill="none" />
<path d="M0,0 V-10 L3.5,-3 L7,-10 V0" transform="translate(432.90,313.40) skewX(-15) scale(1.044,1.160)" fill="none" stroke="#2a2a2a" stroke-width="0.9" stroke-linecap="round" stroke-linejoin="round" vector-effect="non-scaling-stroke"/>
<line x1="430.1" y1="315.8" x2="445.8" y2="315.8" stroke="#444" stroke-width="0.7" />
<polyline points="430.1,315.8 388.6,349.4" stroke="#444" stroke-width="0.7" fill="none" />
<path d="M0,0 V-10 H3.4 Q6,-10 6,-7.3 Q6,-4.6 3.4,-4.6 H0" transform="translate(393.70,381.80) skewX(-15) scale(1.044,1.160)" fill="none" stroke="#2a2a2a" stroke-width="0.9" stroke-linecap="round" stroke-linejoin="round" vector-effect="non-scaling-stroke"/>
<line x1="390.4" y1="384.2" x2="405.2" y2="384.2" stroke="#444" stroke-width="0.7" />
<polyline points="390.4,384.2 370.1,354.1" stroke="#444" stroke-width="0.7" fill="none" />
<path d="M0,0 V-10 H3.4 Q6,-10 6,-7.3 Q6,-4.6 3.4,-4.6 H0" transform="translate(442.10,381.80) skewX(-15) scale(1.044,1.160)" fill="none" stroke="#2a2a2a" stroke-width="0.9" stroke-linecap="round" stroke-linejoin="round" vector-effect="non-scaling-stroke"/>
<line x1="439.4" y1="384.2" x2="454.2" y2="384.2" stroke="#444" stroke-width="0.7" />
<polyline points="439.4,384.2 428.3,355" stroke="#444" stroke-width="0.7" fill="none" />
<path d="M3,-10 Q6,-10 6,-7 V-3 Q6,0 3,0 Q0,0 0,-3 V-7 Q0,-10 3,-10 Z" transform="translate(434.80,424.80) skewX(-15) scale(1.044,1.160)" fill="none" stroke="#2a2a2a" stroke-width="0.9" stroke-linecap="round" stroke-linejoin="round" vector-effect="non-scaling-stroke"/>
<line x1="431.6" y1="427" x2="446.5" y2="427" stroke="#444" stroke-width="0.7" />
<polyline points="431.6,427 412.4,484.5" stroke="#444" stroke-width="0.7" fill="none" />
<path d="M0,-10 V0 H5.5" transform="translate(473.20,436.60) skewX(-15) scale(1.044,1.160)" fill="none" stroke="#2a2a2a" stroke-width="0.9" stroke-linecap="round" stroke-linejoin="round" vector-effect="non-scaling-stroke"/>
<line x1="468.9" y1="437.6" x2="482.8" y2="437.6" stroke="#444" stroke-width="0.7" />
<polyline points="468.9,437.6 441.2,487.7" stroke="#444" stroke-width="0.7" fill="none" />
<path d="M0,0 V-10 H3.4 Q6,-10 6,-7.3 Q6,-4.6 3.4,-4.6 H0" transform="translate(360.20,494.10) skewX(-15) scale(1.044,1.160)" fill="none" stroke="#2a2a2a" stroke-width="0.9" stroke-linecap="round" stroke-linejoin="round" vector-effect="non-scaling-stroke"/>
<line x1="358.1" y1="496.9" x2="372" y2="496.9" stroke="#444" stroke-width="0.7" />
<polyline points="372,496.9 399.7,492" stroke="#444" stroke-width="0.7" fill="none" />
<path d="M0,0 V-10 L6,0 V-10" transform="translate(365.60,530.30) skewX(-15) scale(0.954,1.060)" fill="none" stroke="#2a2a2a" stroke-width="0.9" stroke-linecap="round" stroke-linejoin="round" vector-effect="non-scaling-stroke"/>
<line x1="363.4" y1="531.8" x2="378.4" y2="531.8" stroke="#444" stroke-width="0.7" />
<polyline points="378.4,531.8 408.2,484.5" stroke="#444" stroke-width="0.7" fill="none" />
<path d="M6,-8 Q5.6,-10 3.2,-10 Q0,-10 0,-7 V-3 Q0,0 3.2,0 Q5.6,0 6,-2" transform="translate(21.00,532.80) skewX(-15) scale(0.954,1.060)" fill="none" stroke="#2a2a2a" stroke-width="0.9" stroke-linecap="round" stroke-linejoin="round" vector-effect="non-scaling-stroke"/>
<line x1="18.2" y1="534.8" x2="31.3" y2="534.8" stroke="#444" stroke-width="0.7" />
<polyline points="31.3,534.8 61.8,551.8" stroke="#444" stroke-width="0.7" fill="none" />
<path d="M0,-7.6 Q0.4,-10 3,-10 Q6,-10 6,-7.3 Q6,-5.6 4.2,-4 L0,0 H6.2" transform="translate(112.80,556.00) skewX(-15) scale(0.954,1.060)" fill="none" stroke="#2a2a2a" stroke-width="0.9" stroke-linecap="round" stroke-linejoin="round" vector-effect="non-scaling-stroke"/>
<line x1="108.4" y1="557.6" x2="124.4" y2="557.6" stroke="#444" stroke-width="0.7" />
<polyline points="108.4,557.6 79.3,541.6" stroke="#444" stroke-width="0.7" fill="none" />
<path d="M1,-7.5 L4,-10 V0" transform="translate(116.30,575.00) skewX(-15) scale(0.954,1.060)" fill="none" stroke="#2a2a2a" stroke-width="0.9" stroke-linecap="round" stroke-linejoin="round" vector-effect="non-scaling-stroke"/>
<polyline points="76.4,575 124.4,576.5" stroke="#444" stroke-width="0.7" fill="none" />
<path d="M0,0 V-10 L6,0 V-10" transform="translate(26.90,605.60) skewX(-15) scale(0.954,1.060)" fill="none" stroke="#2a2a2a" stroke-width="0.9" stroke-linecap="round" stroke-linejoin="round" vector-effect="non-scaling-stroke"/>
<line x1="25.5" y1="608.5" x2="40" y2="608.5" stroke="#444" stroke-width="0.7" />
<polyline points="40,608.5 67.7,634.7" stroke="#444" stroke-width="0.7" fill="none" />
<path d="M0,0 V-10 H3.4 Q6,-10 6,-7.3 Q6,-4.6 3.4,-4.6 H0" transform="translate(26.90,628.90) skewX(-15) scale(0.954,1.060)" fill="none" stroke="#2a2a2a" stroke-width="0.9" stroke-linecap="round" stroke-linejoin="round" vector-effect="non-scaling-stroke"/>
<line x1="25.5" y1="631.8" x2="40" y2="631.8" stroke="#444" stroke-width="0.7" />
<polyline points="25.5,608.5 25.5,631.8" stroke="#444" stroke-width="0.7" fill="none" />
<path d="M3,-10 Q6,-10 6,-7 V-3 Q6,0 3,0 Q0,0 0,-3 V-7 Q0,-10 3,-10 Z" transform="translate(105.50,620.00) skewX(-15) scale(0.954,1.060)" fill="none" stroke="#2a2a2a" stroke-width="0.9" stroke-linecap="round" stroke-linejoin="round" vector-effect="non-scaling-stroke"/>
<line x1="101.1" y1="622.9" x2="117.1" y2="622.9" stroke="#444" stroke-width="0.7" />
<polyline points="101.1,622.9 79.3,640" stroke="#444" stroke-width="0.7" fill="none" />
<path d="M1,-7.5 L4,-10 V0" transform="translate(28.40,659.40) skewX(-15) scale(0.954,1.060)" fill="none" stroke="#2a2a2a" stroke-width="0.9" stroke-linecap="round" stroke-linejoin="round" vector-effect="non-scaling-stroke"/>
<line x1="24" y1="660.9" x2="40" y2="660.9" stroke="#444" stroke-width="0.7" />
<polyline points="40,660.9 48.7,643.4" stroke="#444" stroke-width="0.7" fill="none" />
<path d="M0,-7.6 Q0.4,-10 3,-10 Q6,-10 6,-7.3 Q6,-5.6 4.2,-4 L0,0 H6.2" transform="translate(111.30,659.40) skewX(-15) scale(0.954,1.060)" fill="none" stroke="#2a2a2a" stroke-width="0.9" stroke-linecap="round" stroke-linejoin="round" vector-effect="non-scaling-stroke"/>
<line x1="107" y1="660.9" x2="124.4" y2="660.9" stroke="#444" stroke-width="0.7" />
<polyline points="107,660.9 98.2,644.9" stroke="#444" stroke-width="0.7" fill="none" />
<path d="M0,0 L3,-10 L6,0 M1.1,-3.6 L4.9,-3.6" transform="translate(105.50,684.20) skewX(-15) scale(0.954,1.060)" fill="none" stroke="#2a2a2a" stroke-width="0.9" stroke-linecap="round" stroke-linejoin="round" vector-effect="non-scaling-stroke"/>
<line x1="101.1" y1="686" x2="118.6" y2="686" stroke="#444" stroke-width="0.7" />
<polyline points="101.1,686 83.7,666.7" stroke="#444" stroke-width="0.7" fill="none" />
<path d="M0,0 V-10 H3.4 Q6,-10 6,-7.3 Q6,-4.6 3.4,-4.6 H0 M3.2,-4.6 L6,0" transform="translate(705.40,209.40) skewX(-15) scale(0.990,1.100)" fill="none" stroke="#2a2a2a" stroke-width="0.9" stroke-linecap="round" stroke-linejoin="round" vector-effect="non-scaling-stroke"/>
<line x1="702" y1="212" x2="716.5" y2="212" stroke="#444" stroke-width="0.7" />
<polyline points="702,212 679.9,206.9" stroke="#444" stroke-width="0.7" fill="none" />
<path d="M3,-10 Q6,-10 6,-7 V-3 Q6,0 3,0 Q0,0 0,-3 V-7 Q0,-10 3,-10 Z" transform="translate(705.40,230.20) skewX(-15) scale(0.990,1.100)" fill="none" stroke="#2a2a2a" stroke-width="0.9" stroke-linecap="round" stroke-linejoin="round" vector-effect="non-scaling-stroke"/>
<line x1="702.9" y1="233.3" x2="716.5" y2="233.3" stroke="#444" stroke-width="0.7" />
<polyline points="702.9,233.3 679,225.6" stroke="#444" stroke-width="0.7" fill="none" />
<path d="M3,-10 Q6,-10 6,-7 V-3 Q6,0 3,0 Q0,0 0,-3 V-7 Q0,-10 3,-10 Z M3.6,-2.6 L6.6,0.6" transform="translate(705.40,251.20) skewX(-15) scale(0.990,1.100)" fill="none" stroke="#2a2a2a" stroke-width="0.9" stroke-linecap="round" stroke-linejoin="round" vector-effect="non-scaling-stroke"/>
<line x1="702.9" y1="253.7" x2="718.2" y2="253.7" stroke="#444" stroke-width="0.7" />
<polyline points="702.9,253.7 679,249.5" stroke="#444" stroke-width="0.7" fill="none" />
<rect x="14.5" y="500.5" width="119.5" height="195.5" fill="none" stroke="#777" stroke-width="1" />
<text x="23.5" y="512.5" font-size="9.5" fill="#222" textLength="107.4" lengthAdjust="spacingAndGlyphs" >Схема установки стяжек</text>
<line x1="23.5" y1="514" x2="130.9" y2="514" stroke="#333" stroke-width="0.6" />
<line x1="48.7" y1="524.1" x2="80.8" y2="583.8" stroke="#444" stroke-width="3.0" stroke-linecap="round"/>
<line x1="48.7" y1="524.1" x2="80.8" y2="583.8" stroke="#fff" stroke-width="1.4" stroke-linecap="round"/>
<line x1="40" y1="572" x2="86.6" y2="534.3" stroke="#444" stroke-width="3.0" stroke-linecap="round"/>
<line x1="40" y1="572" x2="86.6" y2="534.3" stroke="#fff" stroke-width="1.4" stroke-linecap="round"/>
<line x1="64.8" y1="581" x2="64.8" y2="611" stroke="#666" stroke-width="0.8" />
<polyline points="61,597 64.8,611 68.6,597" stroke="#666" stroke-width="0.8" fill="none" />
<line x1="64.8" y1="597" x2="64.8" y2="611" stroke="#666" stroke-width="1.2" />
<rect x="44.4" y="652" width="58.2" height="29.3" rx="5" fill="#fff" stroke="#333" stroke-width="0.8"/>
<path d="M44.4,675.3 A6,6 0 0 1 50.4,681.3" fill="none" stroke="#555" stroke-width="0.5" clip-path="url(#cb)"/>
<path d="M102.6,675.3 A6,6 0 0 0 96.6,681.3" fill="none" stroke="#555" stroke-width="0.5" clip-path="url(#cb)"/>
<path d="M44.4,669.3 A12,12 0 0 1 56.4,681.3" fill="none" stroke="#555" stroke-width="0.5" clip-path="url(#cb)"/>
<path d="M102.6,669.3 A12,12 0 0 0 90.6,681.3" fill="none" stroke="#555" stroke-width="0.5" clip-path="url(#cb)"/>
<path d="M44.4,663.3 A18,18 0 0 1 62.4,681.3" fill="none" stroke="#555" stroke-width="0.5" clip-path="url(#cb)"/>
<path d="M102.6,663.3 A18,18 0 0 0 84.6,681.3" fill="none" stroke="#555" stroke-width="0.5" clip-path="url(#cb)"/>
<path d="M44.4,657.3 A24,24 0 0 1 68.4,681.3" fill="none" stroke="#555" stroke-width="0.5" clip-path="url(#cb)"/>
<path d="M102.6,657.3 A24,24 0 0 0 78.6,681.3" fill="none" stroke="#555" stroke-width="0.5" clip-path="url(#cb)"/>
<path d="M44.4,651.3 A30,30 0 0 1 74.4,681.3" fill="none" stroke="#555" stroke-width="0.5" clip-path="url(#cb)"/>
<path d="M102.6,651.3 A30,30 0 0 0 72.6,681.3" fill="none" stroke="#555" stroke-width="0.5" clip-path="url(#cb)"/>
<path d="M44.4,645.3 A36,36 0 0 1 80.4,681.3" fill="none" stroke="#555" stroke-width="0.5" clip-path="url(#cb)"/>
<path d="M102.6,645.3 A36,36 0 0 0 66.6,681.3" fill="none" stroke="#555" stroke-width="0.5" clip-path="url(#cb)"/>
<path d="M44.4,639.3 A42,42 0 0 1 86.4,681.3" fill="none" stroke="#555" stroke-width="0.5" clip-path="url(#cb)"/>
<path d="M102.6,639.3 A42,42 0 0 0 60.599999999999994,681.3" fill="none" stroke="#555" stroke-width="0.5" clip-path="url(#cb)"/>
<path d="M44.4,633.3 A48,48 0 0 1 92.4,681.3" fill="none" stroke="#555" stroke-width="0.5" clip-path="url(#cb)"/>
<path d="M102.6,633.3 A48,48 0 0 0 54.599999999999994,681.3" fill="none" stroke="#555" stroke-width="0.5" clip-path="url(#cb)"/>
<defs><clipPath id="cb"><rect x="44.4" y="652" width="58.2" height="29.3" rx="5"/></clipPath></defs>
<path d="M45.8,644 Q55,640 66,646 L66,651 Q55,646 47,648 Z" fill="#fff" stroke="#333" stroke-width="0.7"/>
<path d="M101,644 Q92,640 80,646 L80,651 Q92,646 100,648 Z" fill="#fff" stroke="#333" stroke-width="0.7"/>
<rect x="63" y="645" width="17" height="6" fill="#fff" stroke="#333" stroke-width="0.7"/>
<rect x="67.7" y="643" width="8.7" height="41" fill="#fff" stroke="#333" stroke-width="0.8"/>
<path d="M66,684 A6,5 0 0 0 78,684 Z" fill="#fff" stroke="#333" stroke-width="0.8"/>
<rect x="64.8" y="634" width="14.5" height="9.5" fill="#fff" stroke="#333" stroke-width="0.8"/>
<path d="M64.8,634 A7.25,8 0 0 1 79.3,634 Z" fill="#fff" stroke="#333" stroke-width="0.8"/>
<circle cx="67.7" cy="634.7" r="1.2" fill="#111"/><circle cx="79.3" cy="640" r="1.2" fill="#111"/><circle cx="48.7" cy="643.4" r="1.2" fill="#111"/><circle cx="98.2" cy="644.9" r="1.2" fill="#111"/><circle cx="83.7" cy="666.7" r="1.2" fill="#111"/>
<line x1="72" y1="621.6" x2="72" y2="695" stroke="#ee9a3a" stroke-width="0.8"/>
<text x="139.5" y="560.4" font-size="11" stroke="#1a1a1a" stroke-width="0.1" >1.</text>
<text x="151.6" y="560.4" font-size="11" textLength="304.2" lengthAdjust="spacingAndGlyphs" stroke="#1a1a1a" stroke-width="0.1" >Установить стяжки С и кронштейны Н,  I и J в опоры А и В,</text>
<text x="151.6" y="572.06" font-size="11" textLength="326.9" lengthAdjust="spacingAndGlyphs" stroke="#1a1a1a" stroke-width="0.1" >совместив отверстия как показано на рисунке и в соответствии</text>
<text x="151.6" y="583.72" font-size="11" textLength="319.7" lengthAdjust="spacingAndGlyphs" stroke="#1a1a1a" stroke-width="0.1" >со схемами установок кронштейнов и стяжек. Крепеж К, N и О</text>
<text x="151.6" y="595.38" font-size="11" textLength="72.7" lengthAdjust="spacingAndGlyphs" stroke="#1a1a1a" stroke-width="0.1" >не затягивать.</text>
<text x="139.5" y="607.04" font-size="11" stroke="#1a1a1a" stroke-width="0.1" >2.</text>
<text x="151.6" y="607.04" font-size="11" textLength="312.4" lengthAdjust="spacingAndGlyphs" stroke="#1a1a1a" stroke-width="0.1" >Убедиться, что кронштейны расположены в соответствии со</text>
<text x="151.6" y="618.6999999999999" font-size="11" textLength="163.8" lengthAdjust="spacingAndGlyphs" stroke="#1a1a1a" stroke-width="0.1" >схемой установки кронштейнов.</text>
<text x="139.5" y="630.36" font-size="11" stroke="#1a1a1a" stroke-width="0.1" >3.</text>
<text x="151.6" y="630.36" font-size="11" textLength="304.2" lengthAdjust="spacingAndGlyphs" stroke="#1a1a1a" stroke-width="0.1" >Установить стяжки нижние D и подножку Е на опоры А и В,</text>
<text x="151.6" y="642.02" font-size="11" textLength="288.7" lengthAdjust="spacingAndGlyphs" stroke="#1a1a1a" stroke-width="0.1" >как показано на рисунке. Крепеж К, N и О не затягивать.</text>
<text x="139.5" y="653.68" font-size="11" stroke="#1a1a1a" stroke-width="0.1" >4.</text>
<text x="151.6" y="653.68" font-size="11" textLength="318.6" lengthAdjust="spacingAndGlyphs" stroke="#1a1a1a" stroke-width="0.1" >Закрепить стяжки опорные F и G на подножке E и на опоры A,</text>
<text x="151.6" y="665.3399999999999" font-size="11" textLength="304.2" lengthAdjust="spacingAndGlyphs" stroke="#1a1a1a" stroke-width="0.1" >как показано на рисунке. Крепеж L, M, N и O не затягивать.</text>
<text x="452" y="692.5" font-size="11" textLength="31.5" lengthAdjust="spacingAndGlyphs" stroke="#1a1a1a" stroke-width="0.1" >Лист 1</text>
<text x="516.2" y="26" font-size="12" textLength="35.3" lengthAdjust="spacingAndGlyphs" stroke="#1a1a1a" stroke-width="0.1" >2 ШАГ</text>
<path d="M566.8,69.9 Q568,66.5 572,66 L593.7,63.5 Q597.5,63.5 598.7,66 Q604,78 605.6,84 Q608.5,100 609.6,106 L610.6,115.6 Q612,120 616.6,123.6 L636.4,133.5 Q639.5,136 637.4,139 Q635,142 633.5,142.5 L599.7,148.4 Q594,148.5 587.7,146.4 L563.9,133.5 Q558.5,129 558.3,123.6 L558.9,115.6 L563.9,79.8 Z" fill="none" stroke="#2a2a2a" stroke-width="1.1"/>
<line x1="558.9" y1="119.6" x2="610.6" y2="110.6" stroke="#333" stroke-width="0.7" />
<line x1="561.9" y1="132.5" x2="616.6" y2="123.6" stroke="#333" stroke-width="0.7" />
<line x1="597.7" y1="146.4" x2="635.4" y2="139.5" stroke="#333" stroke-width="0.7" />
<line x1="584.7" y1="130.5" x2="584.7" y2="186" stroke="#ee9a3a" stroke-width="0.9" stroke-dasharray="4,1.5"/>
<line x1="593.3" y1="124.6" x2="593.3" y2="190" stroke="#ee9a3a" stroke-width="0.9" stroke-dasharray="4,1.5"/>
<line x1="603.6" y1="132.5" x2="603.6" y2="196" stroke="#ee9a3a" stroke-width="0.9" stroke-dasharray="4,1.5"/>
<line x1="620.1" y1="124.6" x2="620.1" y2="176" stroke="#ee9a3a" stroke-width="0.9" stroke-dasharray="4,1.5"/>
<circle cx="622.4" cy="172.9" r="13.5" stroke="#333" stroke-width="0.7" fill="none"/>
<line x1="635.2" y1="182" x2="660.7" y2="200.1" stroke="#444" stroke-width="0.7" />
<circle cx="695.2" cy="226" r="42" stroke="#444" stroke-width="0.8" fill="none"/>
<line x1="678.2" y1="191.5" x2="678.2" y2="258.8" stroke="#ee9a3a" stroke-width="0.9"/>
<ellipse cx="678" cy="207" rx="5.5" ry="3" fill="#fff" stroke="#333" stroke-width="0.8"/><ellipse cx="679" cy="207" rx="2.2" ry="1.5" fill="#222"/>
<ellipse cx="678.5" cy="225.6" rx="3.5" ry="2" fill="#333"/>
<rect x="675.5" y="240.5" width="5.5" height="8" rx="1" fill="#fff" stroke="#333" stroke-width="0.7"/><ellipse cx="678.5" cy="250" rx="4" ry="3" fill="#777" stroke="#333" stroke-width="0.7"/>
<text x="758" y="108.5" font-size="11" stroke="#1a1a1a" stroke-width="0.1" >1.</text>
<text x="770" y="108.5" font-size="11" textLength="203.8" lengthAdjust="spacingAndGlyphs" stroke="#1a1a1a" stroke-width="0.1" >Собранный каркас слула установить на</text>
<text x="770" y="120.13" font-size="11" textLength="112" lengthAdjust="spacingAndGlyphs" stroke="#1a1a1a" stroke-width="0.1" >плоскую поверхность.</text>
<text x="758" y="131.76" font-size="11" stroke="#1a1a1a" stroke-width="0.1" >2.</text>
<text x="770" y="131.76" font-size="11" textLength="166.2" lengthAdjust="spacingAndGlyphs" stroke="#1a1a1a" stroke-width="0.1" >Установить сиденье (в комплект</text>
<text x="770" y="143.39" font-size="11" textLength="175" lengthAdjust="spacingAndGlyphs" stroke="#1a1a1a" stroke-width="0.1" >поставки не входит) на каркас при</text>
<text x="770" y="155.02" font-size="11" textLength="217" lengthAdjust="spacingAndGlyphs" stroke="#1a1a1a" stroke-width="0.1" >помощи крепежа Q, O и R (не затягивать).</text>
<text x="758" y="166.65" font-size="11" stroke="#1a1a1a" stroke-width="0.1" >3.</text>
<text x="770" y="166.65" font-size="11" textLength="193" lengthAdjust="spacingAndGlyphs" stroke="#1a1a1a" stroke-width="0.1" >В случае не прилигания кронштейнов</text>
<text x="770" y="178.28" font-size="11" textLength="197.5" lengthAdjust="spacingAndGlyphs" stroke="#1a1a1a" stroke-width="0.1" >Н и I к сиденью, поменять их местами.</text>
<text x="758" y="189.91000000000003" font-size="11" stroke="#1a1a1a" stroke-width="0.1" >4.</text>
<text x="770" y="189.91000000000003" font-size="11" textLength="99.2" lengthAdjust="spacingAndGlyphs" stroke="#1a1a1a" stroke-width="0.1" >Затянуть крепеж Q.</text>
<text x="758" y="201.54000000000002" font-size="11" stroke="#1a1a1a" stroke-width="0.1" >5.</text>
<text x="770" y="201.54000000000002" font-size="11" textLength="155.5" lengthAdjust="spacingAndGlyphs" stroke="#1a1a1a" stroke-width="0.1" >Затянуть крепеж К (крепление</text>
<text x="770" y="213.17000000000002" font-size="11" textLength="189.5" lengthAdjust="spacingAndGlyphs" stroke="#1a1a1a" stroke-width="0.1" >кронштейнов Н, I и J в опорах А и В).</text>
<text x="758" y="224.8" font-size="11" stroke="#1a1a1a" stroke-width="0.1" >6.</text>
<text x="770" y="224.8" font-size="11" textLength="180.5" lengthAdjust="spacingAndGlyphs" stroke="#1a1a1a" stroke-width="0.1" >Затянуть оставшийся крепеж К и L.</text>
<text x="758" y="236.43" font-size="11" stroke="#1a1a1a" stroke-width="0.1" >7.</text>
<text x="770" y="236.43" font-size="11" textLength="176.2" lengthAdjust="spacingAndGlyphs" stroke="#1a1a1a" stroke-width="0.1" >Установить на гайки N колпачки Р.</text>
<line x1="515.5" y1="335.5" x2="963.5" y2="335.5" stroke="#555" stroke-width="1" />
<line x1="515.5" y1="347.5" x2="963.5" y2="347.5" stroke="#555" stroke-width="1" />
<line x1="515.5" y1="408.5" x2="963.5" y2="408.5" stroke="#555" stroke-width="1" />
<line x1="515.5" y1="335.5" x2="515.5" y2="408.5" stroke="#555" stroke-width="1" />
<line x1="579.5" y1="335.5" x2="579.5" y2="408.5" stroke="#555" stroke-width="1" />
<line x1="643.5" y1="335.5" x2="643.5" y2="408.5" stroke="#555" stroke-width="1" />
<line x1="708.5" y1="335.5" x2="708.5" y2="408.5" stroke="#555" stroke-width="1" />
<line x1="770.5" y1="335.5" x2="770.5" y2="408.5" stroke="#555" stroke-width="1" />
<line x1="834.5" y1="335.5" x2="834.5" y2="408.5" stroke="#555" stroke-width="1" />
<line x1="898.5" y1="335.5" x2="898.5" y2="408.5" stroke="#555" stroke-width="1" />
<line x1="963.5" y1="335.5" x2="963.5" y2="408.5" stroke="#555" stroke-width="1" />
<line x1="515.5" y1="421.5" x2="879.5" y2="421.5" stroke="#555" stroke-width="1" />
<line x1="515.5" y1="482.5" x2="879.5" y2="482.5" stroke="#555" stroke-width="1" />
<line x1="515.5" y1="408.5" x2="515.5" y2="482.5" stroke="#555" stroke-width="1" />
<line x1="556.5" y1="408.5" x2="556.5" y2="482.5" stroke="#555" stroke-width="1" />
<line x1="596.5" y1="408.5" x2="596.5" y2="482.5" stroke="#555" stroke-width="1" />
<line x1="637.5" y1="408.5" x2="637.5" y2="482.5" stroke="#555" stroke-width="1" />
<line x1="678.5" y1="408.5" x2="678.5" y2="482.5" stroke="#555" stroke-width="1" />
<line x1="718.5" y1="408.5" x2="718.5" y2="482.5" stroke="#555" stroke-width="1" />
<line x1="758.5" y1="408.5" x2="758.5" y2="482.5" stroke="#555" stroke-width="1" />
<line x1="799.5" y1="408.5" x2="799.5" y2="482.5" stroke="#555" stroke-width="1" />
<line x1="839.5" y1="408.5" x2="839.5" y2="482.5" stroke="#555" stroke-width="1" />
<line x1="879.5" y1="408.5" x2="879.5" y2="482.5" stroke="#555" stroke-width="1" />
<line x1="515.5" y1="495.5" x2="596.5" y2="495.5" stroke="#555" stroke-width="1" />
<line x1="515.5" y1="556.5" x2="596.5" y2="556.5" stroke="#555" stroke-width="1" />
<line x1="515.5" y1="482.5" x2="515.5" y2="556.5" stroke="#555" stroke-width="1" />
<line x1="556.5" y1="482.5" x2="556.5" y2="556.5" stroke="#555" stroke-width="1" />
<line x1="596.5" y1="482.5" x2="596.5" y2="556.5" stroke="#555" stroke-width="1" />
<text x="547.5" y="344.6" font-size="9.8" text-anchor="middle" >Ax2 шт.</text>
<text x="611.5" y="344.6" font-size="9.8" text-anchor="middle" >Bx2 шт.</text>
<text x="676.0" y="344.6" font-size="9.8" text-anchor="middle" >Cx4 шт.</text>
<text x="739.5" y="344.6" font-size="9.8" text-anchor="middle" >Dx3 шт.</text>
<text x="802.5" y="344.6" font-size="9.8" text-anchor="middle" >Ex1 шт.</text>
<text x="866.5" y="344.6" font-size="9.8" text-anchor="middle" >Fx1 шт.</text>
<text x="931.0" y="344.6" font-size="9.8" text-anchor="middle" >Gx1 шт.</text>
<text x="536.3" y="418.4" font-size="9.8" text-anchor="middle" >Hx1 шт.</text>
<text x="576.8" y="418.4" font-size="9.8" text-anchor="middle" >Ix1 шт.</text>
<text x="617.3" y="418.4" font-size="9.8" text-anchor="middle" >Jx2 шт.</text>
<text x="658.3" y="418.4" font-size="9.8" textLength="39.0" lengthAdjust="spacingAndGlyphs" text-anchor="middle" >Kx12 шт.</text>
<text x="698.8" y="418.4" font-size="9.8" text-anchor="middle" >Lx2 шт.</text>
<text x="738.8" y="418.4" font-size="9.8" text-anchor="middle" >Mx1 шт.</text>
<text x="779.3" y="418.4" font-size="9.8" textLength="39.0" lengthAdjust="spacingAndGlyphs" text-anchor="middle" >Nx15 шт.</text>
<text x="819.8" y="418.4" font-size="9.8" textLength="38.0" lengthAdjust="spacingAndGlyphs" text-anchor="middle" >Ox19 шт.</text>
<text x="859.8" y="418.4" font-size="9.8" textLength="38.0" lengthAdjust="spacingAndGlyphs" text-anchor="middle" >Px16 шт.</text>
<text x="536" y="492" font-size="9.8" text-anchor="middle" >Qx4 шт.</text>
<text x="576.5" y="492" font-size="9.8" text-anchor="middle" >Rx4 шт.</text>
<text x="519.6" y="356.3" font-size="6.8" fill="#3a3a3a" textLength="55.2" lengthAdjust="spacingAndGlyphs" letter-spacing="0.3">Опора передняя</text>
<text x="583.2" y="356.3" font-size="6.8" fill="#3a3a3a" textLength="51" lengthAdjust="spacingAndGlyphs" letter-spacing="0.3">Опора задняя</text>
<text x="646.8" y="356.8" font-size="6.8" fill="#3a3a3a" textLength="23" lengthAdjust="spacingAndGlyphs" letter-spacing="0.3">Стяжка</text>
<text x="711" y="356.8" font-size="6.8" fill="#3a3a3a" textLength="51.5" lengthAdjust="spacingAndGlyphs" letter-spacing="0.3">Стяжка нижняя</text>
<text x="776" y="356.5" font-size="6.8" fill="#3a3a3a" textLength="32.5" lengthAdjust="spacingAndGlyphs" letter-spacing="0.3">Подножка</text>
<text x="838.9" y="356.5" font-size="6.8" fill="#3a3a3a" textLength="55" lengthAdjust="spacingAndGlyphs" letter-spacing="0.3">Стяжка опорная</text>
<text x="838.9" y="364.8" font-size="6.8" fill="#3a3a3a" textLength="19" lengthAdjust="spacingAndGlyphs" letter-spacing="0.3">левая</text>
<text x="900.6" y="356.5" font-size="6.8" fill="#3a3a3a" textLength="55" lengthAdjust="spacingAndGlyphs" letter-spacing="0.3">Стяжка опорная</text>
<text x="900.6" y="364.8" font-size="6.8" fill="#3a3a3a" textLength="23.5" lengthAdjust="spacingAndGlyphs" letter-spacing="0.3">правая</text>
<text x="555.4" y="404.6" font-size="7" fill="#3a3a3a" textLength="18.2" lengthAdjust="spacingAndGlyphs" letter-spacing="0.3">4 отв.</text>
<text x="622.3" y="404.6" font-size="7" fill="#3a3a3a" textLength="18.2" lengthAdjust="spacingAndGlyphs" letter-spacing="0.3">3 отв.</text>
<text x="517.2" y="428.6" font-size="6.3" fill="#3a3a3a" textLength="35" lengthAdjust="spacingAndGlyphs" letter-spacing="0.3">Кронштейн</text>
<text x="557.8" y="428.6" font-size="6.3" fill="#3a3a3a" textLength="35" lengthAdjust="spacingAndGlyphs" letter-spacing="0.3">Кронштейн</text>
<text x="598.2" y="428.6" font-size="6.3" fill="#3a3a3a" textLength="35" lengthAdjust="spacingAndGlyphs" letter-spacing="0.3">Кронштейн</text>
<text x="518.6" y="479.4" font-size="10.5" textLength="13.8" lengthAdjust="spacingAndGlyphs" stroke="#1a1a1a" stroke-width="0.1" >№1</text>
<text x="577.5" y="479.4" font-size="10.5" textLength="14.5" lengthAdjust="spacingAndGlyphs" stroke="#1a1a1a" stroke-width="0.1" >№2</text>
<text x="618.7" y="479.8" font-size="10.5" textLength="14.4" lengthAdjust="spacingAndGlyphs" stroke="#1a1a1a" stroke-width="0.1" >№3</text>
<text x="644" y="476.4" font-size="10" textLength="27.1" lengthAdjust="spacingAndGlyphs" >M6x40</text>
<text x="684.3" y="475.9" font-size="10" textLength="27.1" lengthAdjust="spacingAndGlyphs" >M6x35</text>
<text x="725" y="475.9" font-size="10" textLength="27.5" lengthAdjust="spacingAndGlyphs" >M6x35</text>
<text x="771.2" y="475.9" font-size="10" textLength="12.8" lengthAdjust="spacingAndGlyphs" >M6</text>
<text x="815.2" y="471.5" font-size="11.5" textLength="11" lengthAdjust="spacingAndGlyphs" stroke="#1a1a1a" stroke-width="0.1" >ф6</text>
<text x="804.7" y="479.2" font-size="5" fill="#3a3a3a" textLength="30.3" lengthAdjust="spacingAndGlyphs" >(зубчатая)</text>
<text x="843.8" y="468.2" font-size="7.3" fill="#222" textLength="33.5" lengthAdjust="spacingAndGlyphs" >Колпачок</text>
<text x="846" y="475.9" font-size="7.3" fill="#222" textLength="29.7" lengthAdjust="spacingAndGlyphs" >пластик.</text>
<text x="522.9" y="550.4" font-size="10" textLength="26.8" lengthAdjust="spacingAndGlyphs" >M6x12</text>
<text x="572.1" y="544.6" font-size="11" textLength="9.6" lengthAdjust="spacingAndGlyphs" stroke="#1a1a1a" stroke-width="0.1" >ф6</text>
<text x="563.1" y="553" font-size="5.5" fill="#3a3a3a" textLength="26.2" lengthAdjust="spacingAndGlyphs" >(увелич.)</text>
<line x1="521.8" y1="394.5" x2="571.6" y2="366.3" stroke="#555" stroke-width="5" stroke-linecap="round"/>
<line x1="521.8" y1="394.5" x2="571.6" y2="366.3" stroke="#f4f4f4" stroke-width="3.5" stroke-linecap="round"/>
<line x1="521.8" y1="394.5" x2="571.6" y2="366.3" stroke="#888" stroke-width="0.5"/>
<line x1="586.8" y1="394.3" x2="637.2" y2="366.3" stroke="#555" stroke-width="5" stroke-linecap="round"/>
<line x1="586.8" y1="394.3" x2="637.2" y2="366.3" stroke="#f4f4f4" stroke-width="3.5" stroke-linecap="round"/>
<line x1="586.8" y1="394.3" x2="637.2" y2="366.3" stroke="#888" stroke-width="0.5"/>
<line x1="663.6" y1="362.4" x2="686.4" y2="403.2" stroke="#555" stroke-width="2.6" stroke-linecap="round"/>
<line x1="663.6" y1="362.4" x2="686.4" y2="403.2" stroke="#f4f4f4" stroke-width="1.1" stroke-linecap="round"/>
<line x1="663.6" y1="362.4" x2="686.4" y2="403.2" stroke="#888" stroke-width="0.5"/>
<line x1="657.6" y1="394.8" x2="689.5" y2="369.6" stroke="#555" stroke-width="2.6" stroke-linecap="round"/>
<line x1="657.6" y1="394.8" x2="689.5" y2="369.6" stroke="#f4f4f4" stroke-width="1.1" stroke-linecap="round"/>
<line x1="657.6" y1="394.8" x2="689.5" y2="369.6" stroke="#888" stroke-width="0.5"/>
<line x1="718" y1="397.5" x2="764.6" y2="372.8" stroke="#555" stroke-width="4.5" stroke-linecap="round"/>
<line x1="718" y1="397.5" x2="764.6" y2="372.8" stroke="#f4f4f4" stroke-width="3.0" stroke-linecap="round"/>
<line x1="718" y1="397.5" x2="764.6" y2="372.8" stroke="#888" stroke-width="0.5"/>
<line x1="765.5" y1="370" x2="765.5" y2="378" stroke="#444" stroke-width="0.8" />
<rect x="714.5" y="395.5" width="5" height="4" fill="#fff" stroke="#444" stroke-width="0.7"/>
<polyline points="776,394.8 782,394.8 788.9,400.3 830.2,376.6 823,371" fill="none" stroke="#555" stroke-width="4.2" stroke-linejoin="round"/>
<polyline points="776,394.8 782,394.8 788.9,400.3 830.2,376.6 823,371" fill="none" stroke="#f4f4f4" stroke-width="2.8" stroke-linejoin="round"/>
<line x1="822.7" y1="371" x2="822.7" y2="365.5" stroke="#444" stroke-width="0.8" />
<line x1="853.3" y1="397.5" x2="886.6" y2="361.5" stroke="#555" stroke-width="3.5" stroke-linecap="round"/>
<line x1="853.3" y1="397.5" x2="886.6" y2="361.5" stroke="#f4f4f4" stroke-width="2.0" stroke-linecap="round"/>
<line x1="853.3" y1="397.5" x2="886.6" y2="361.5" stroke="#888" stroke-width="0.5"/>
<line x1="930.7" y1="365.1" x2="954.1" y2="406.5" stroke="#555" stroke-width="2.6" stroke-linecap="round"/>
<line x1="930.7" y1="365.1" x2="954.1" y2="406.5" stroke="#f4f4f4" stroke-width="1.1" stroke-linecap="round"/>
<line x1="930.7" y1="365.1" x2="954.1" y2="406.5" stroke="#888" stroke-width="0.5"/>
<g transform="translate(540,440) rotate(25)" fill="#fff" stroke="#444" stroke-width="0.8">
<rect x="-3.5" y="0" width="7" height="22" rx="2"/>
<rect x="-3.5" y="-2" width="12" height="4" rx="1.5"/>
<circle cx="0" cy="19" r="1" fill="#444"/>
</g>
<g transform="translate(566,440) rotate(-28)" fill="#fff" stroke="#444" stroke-width="0.8">
<rect x="-3.5" y="0" width="7" height="24" rx="2"/>
<rect x="-3.5" y="-2" width="10" height="4" rx="1.5"/>
<circle cx="0" cy="21" r="1" fill="#444"/>
</g>
<g fill="#fff" stroke="#444" stroke-width="0.8"><path d="M601,443 L618,443 L618,447 L601,447 Z"/><path d="M616,444 L628,444 L630,457 L623,458 Z"/><circle cx="625" cy="454" r="1" fill="#444"/></g>
<g fill="#fff" stroke="#444" stroke-width="0.8"><rect x="650" y="437.5" width="18.700000000000045" height="5" rx="2"/><ellipse cx="648" cy="440" rx="3" ry="5"/></g>
<g fill="#fff" stroke="#444" stroke-width="0.8"><rect x="690" y="434.9" width="19.600000000000023" height="5" rx="2"/><ellipse cx="688" cy="437.4" rx="3" ry="4.5"/></g>
<g fill="#fff" stroke="#444" stroke-width="0.8"><rect x="733" y="426" width="6" height="36" rx="2.5"/><path d="M730.5,462 L741.5,462 L742.5,467 L729.5,467 Z"/><ellipse cx="736" cy="467" rx="6.5" ry="2.5"/></g>
<g fill="#fff" stroke="#444" stroke-width="0.8"><path d="M772,441 L776,439 L781,439 L784,441 L784,447 L772,447 Z"/><ellipse cx="778" cy="441" rx="6" ry="2.5"/><ellipse cx="778" cy="441" rx="2.5" ry="1"/></g>
<g fill="none" stroke="#444" stroke-width="0.8"><ellipse cx="818.5" cy="441.8" rx="7.5" ry="4.5" stroke-dasharray="1.5,1"/><ellipse cx="818.5" cy="441.8" rx="5.5" ry="3"/><ellipse cx="818.5" cy="441.8" rx="2.5" ry="1.2"/></g>
<g fill="#fff" stroke="#444" stroke-width="0.8" transform="rotate(35 859 444)"><rect x="852" y="440" width="14" height="9" rx="3"/><ellipse cx="852.5" cy="444.5" rx="2" ry="4.5"/></g>
<g fill="#fff" stroke="#444" stroke-width="0.8"><rect x="530.8" y="505" width="6" height="18" rx="2"/><ellipse cx="533.8" cy="505" rx="3" ry="1.4"/><path d="M527.5,522 L540,522 L541,528 L526.5,528 Z"/><ellipse cx="533.8" cy="527" rx="7" ry="3"/></g>
<g fill="none" stroke="#333" stroke-width="0.9"><ellipse cx="574.6" cy="514.9" rx="9.5" ry="5.5"/><ellipse cx="574.3" cy="514.7" rx="3.5" ry="1.8"/></g>
<text x="947" y="556.25" font-size="11" textLength="31" lengthAdjust="spacingAndGlyphs" stroke="#1a1a1a" stroke-width="0.1" >Лист 2</text>
<rect x="515.5" y="562.5" width="470.75" height="62" fill="none" stroke="#666" stroke-width="1" />
<text x="540.75" y="578.75" font-size="11.5" font-weight="700" fill="#111" textLength="66.25" lengthAdjust="spacingAndGlyphs" stroke="#111" stroke-width="0.1" >ВНИМАНИЕ!</text>
<text x="540.75" y="590" font-size="11" fill="#111" textLength="391" lengthAdjust="spacingAndGlyphs" stroke="#111" stroke-width="0.1" >*эксплуатация изделия возможна после установки и затяжки всего крепежа;</text>
<text x="540.75" y="601.75" font-size="11" fill="#111" textLength="412" lengthAdjust="spacingAndGlyphs" stroke="#111" stroke-width="0.1" >* периодически (не реже 1 раза в месяц) производить подтяжку всех резьбовых</text>
<text x="550" y="613.25" font-size="11" fill="#111" textLength="222.3" lengthAdjust="spacingAndGlyphs" stroke="#111" stroke-width="0.1" >соединений (винты, шурупы, стяжки и т.д.).</text>
<rect x="521.25" y="629.25" width="468" height="27" fill="#868686" />
<text x="584.5" y="646.25" font-size="12" font-weight="700" fill="#fff" stroke="#fff" stroke-width="0.3" textLength="340.3" lengthAdjust="spacing">Максимальная статическая нагрузка на стул - 200 кг</text>
<rect x="520" y="662" width="20" height="25.5" fill="#868686" />
<text x="551.25" y="667.5" font-size="7.4" fill="#222" textLength="157.5" lengthAdjust="spacingAndGlyphs" >248033, г. Калуга, 2-ой Академический проезд, 13,</text>
<text x="551.25" y="677.5" font-size="7.4" fill="#222" textLength="113.75" lengthAdjust="spacingAndGlyphs" >т. (4842) 500-580, т/ф (4842) 500-581,</text>
<text x="551.25" y="687" font-size="7.4" fill="#222" textLength="94.5" lengthAdjust="spacingAndGlyphs" >e-mail: partner@sheffilton.com</text>
<rect x="753.75" y="662.5" width="238.75" height="24.5" fill="#868686" />
<text x="771.25" y="683" font-size="23.5" fill="#fff" textLength="208.75" lengthAdjust="spacingAndGlyphs" stroke="#868686" stroke-width="0.25">www.sheffilton.com</text>
</svg></body></html>
